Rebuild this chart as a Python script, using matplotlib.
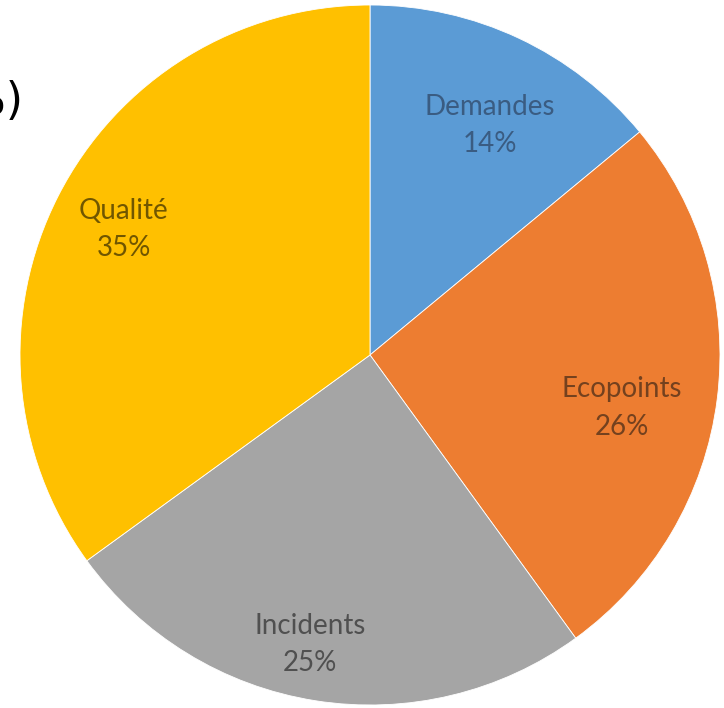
import numpy as np
import matplotlib
matplotlib.use("Agg")
import matplotlib.pyplot as plt

categories = ["Demandes", "Ecopoints", "Incidents", "Qualité"]
shares = [14, 26, 25, 35]

COLORS = ["#5B9BD5", "#ED7D31", "#A5A5A5", "#FFC000"]
TEXT_COLORS = ["#3A5C82", "#74411E", "#505050", "#705600"]
# label placement: radius (fraction of pie radius) and angular nudge (deg, clockwise)
LABEL_R = [0.74, 0.735, 0.845, 0.79]
LABEL_NUDGE = [2.4, 4.7, 2.7, 0.0]

fig = plt.figure(figsize=(7.24, 7.08), dpi=100)
fig.patch.set_facecolor("white")
ax = fig.add_axes([20 / 724, 3 / 708, 700 / 724, 700 / 708])

wedges, _ = ax.pie(shares, colors=COLORS, startangle=90, counterclock=False,
                   wedgeprops=dict(edgecolor="white", linewidth=0.6))

for w, name, val, tc, r, nd in zip(wedges, categories, shares, TEXT_COLORS,
                                   LABEL_R, LABEL_NUDGE):
    mid = np.deg2rad((w.theta1 + w.theta2) / 2 - nd)
    ax.text(r * np.cos(mid), r * np.sin(mid), f"{name}\n{val}%",
            ha="center", va="center", fontsize=20, color=tc,
            family="Lato", linespacing=1.55)

ax.set_xlim(-1, 1)
ax.set_ylim(-1, 1)
ax.set_aspect("equal")
ax.axis("off")

# title is cut off by the crop, only its tail is visible
fig.text(23 / 724, 1 - 102 / 708, "(%)", ha="right", va="center",
         fontsize=32, color="black", family="DejaVu Sans")

fig.savefig("out.png", dpi=100, facecolor="white")
plt.close(fig)
